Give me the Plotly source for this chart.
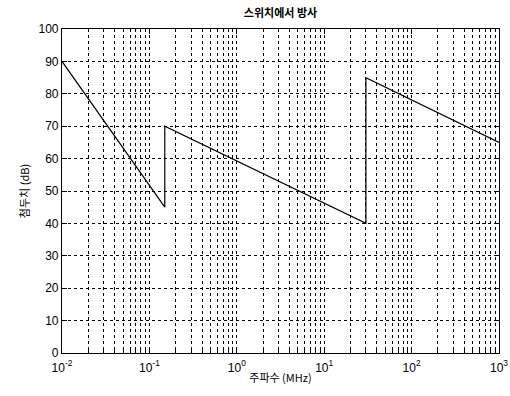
import plotly.graph_objects as go

# data
freq_mhz = [0.01, 0.15, 0.15, 30, 30, 1000]
peak_db = [90, 45, 70, 40, 85, 65]
x_tick_vals = [0.01, 0.1, 1, 10, 100, 1000]
x_tick_text = ["10<sup>-2</sup>", "10<sup>-1</sup>", "10<sup>0</sup>",
               "10<sup>1</sup>", "10<sup>2</sup>", "10<sup>3</sup>"]
y_tick_vals = [0, 10, 20, 30, 40, 50, 60, 70, 80, 90, 100]

title_text = "스위치에서 방사"
x_title = "주파수 (MHz)"
y_title = "첨두치 (dB)"

kfont = "Noto Sans CJK KR, Arial, sans-serif"

fig = go.Figure()
fig.add_trace(go.Scatter(x=freq_mhz, y=peak_db, mode="lines",
                         line=dict(color="black", width=1.2), showlegend=False))

grid_common = dict(gridcolor="black", gridwidth=1, griddash="3px,3px")

fig.update_layout(
    width=510, height=396,
    margin=dict(l=62, r=11, t=29, b=43),
    paper_bgcolor="white", plot_bgcolor="white",
    font=dict(family="Arial, Liberation Sans, sans-serif", size=12, color="black"),
    title=dict(text=title_text, x=0.5, xanchor="center", xref="paper",
               y=1 - 13 / 396, yanchor="middle",
               font=dict(family=kfont, size=11, color="black", weight="bold")),
)

fig.update_xaxes(
    type="log", range=[-2, 3], automargin=False,
    tickvals=x_tick_vals, ticktext=x_tick_text,
    showgrid=True, **grid_common,
    minor=dict(dtick="D1", showgrid=True, gridcolor="black", gridwidth=1,
               griddash="3px,3px", ticks="inside", ticklen=3, tickcolor="black"),
    showline=True, linecolor="black", linewidth=1.2, mirror="ticks",
    ticks="inside", ticklen=5, tickcolor="black",
    zeroline=False, ticklabelstandoff=3,
    title=dict(text=x_title, font=dict(family=kfont, size=11), standoff=0),
    tickfont=dict(size=12),
)
fig.update_yaxes(
    range=[0, 100], tickvals=y_tick_vals, automargin=False,
    showgrid=True, **grid_common,
    showline=True, linecolor="black", linewidth=1.2, mirror="ticks",
    ticks="inside", ticklen=5, tickcolor="black",
    zeroline=False,
    title=dict(text=y_title, font=dict(family=kfont, size=11), standoff=6),
    tickfont=dict(size=12),
)

fig.write_html("out.html")
